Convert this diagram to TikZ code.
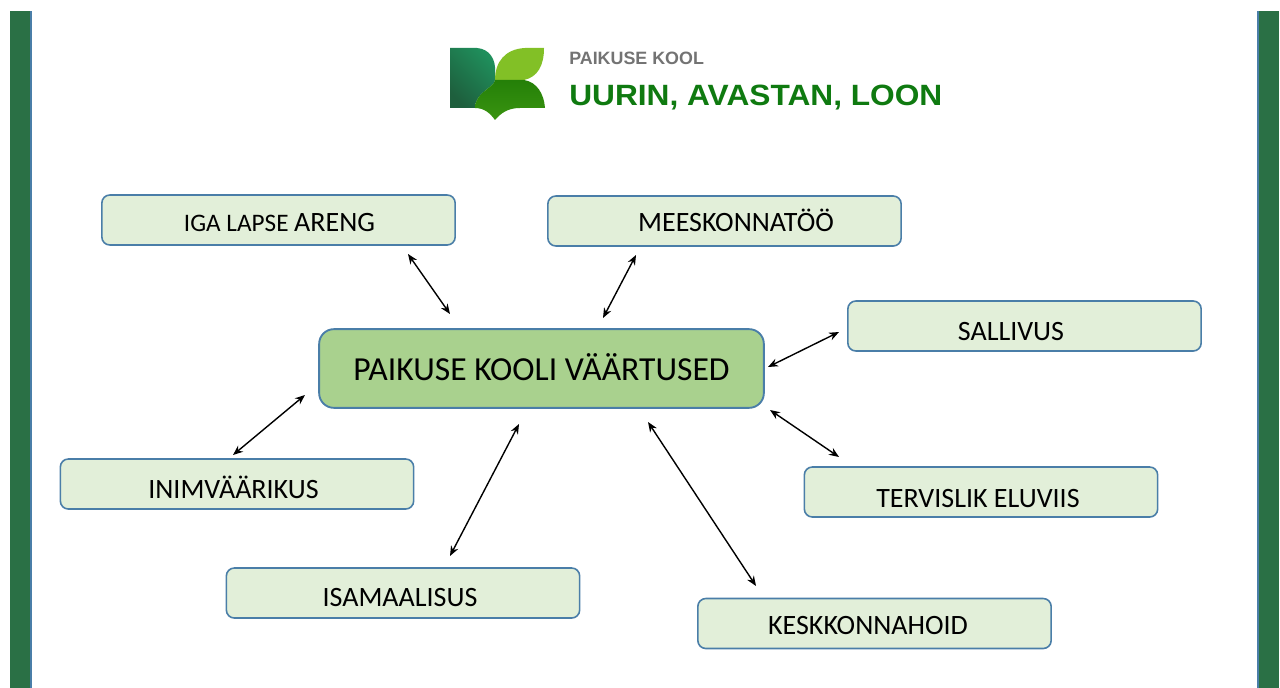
\documentclass[tikz,border=0pt]{standalone}
\usepackage{fontspec}
\setmainfont{Carlito}
\newfontfamily\logofont{Liberation Sans}
\newfontfamily\logowide[FakeStretch=1.08]{Liberation Sans}
\definecolor{bargreen}{HTML}{2A7045}
\definecolor{edgeblue}{HTML}{4A7EA8}
\definecolor{palebox}{HTML}{E2EFD9}
\definecolor{midbox}{HTML}{A9D18E}
\definecolor{logodarkA}{HTML}{1F8F5C}
\definecolor{logodarkB}{HTML}{1E5F3D}
\definecolor{logoleaf}{HTML}{82C026}
\definecolor{logomidA}{HTML}{248008}
\definecolor{logomidB}{HTML}{3A9410}
\definecolor{logotext}{HTML}{0F7A10}
\usetikzlibrary{arrows.meta}
\tikzset{
  x=0.75pt,y=-0.75pt,
  valuebox/.style={draw=edgeblue,line width=1.2pt,fill=palebox,rounded corners=6pt,minimum width=265pt,minimum height=37.5pt,inner sep=0pt,text=black},
  mainbox/.style={draw=edgeblue,line width=1.4pt,fill=midbox,rounded corners=11pt,minimum width=333.5pt,minimum height=59pt,inner sep=0pt},
  label/.style={inner sep=0pt,anchor=center,text=black},
  valuetext/.style={label,font=\fontsize{21}{24}\selectfont},
  link/.style={black,line width=1.05pt,{Stealth[length=7.5pt,width=6pt]}-{Stealth[length=7.5pt,width=6pt]}},
  sidebar/.style={fill=bargreen,draw=none},
  sideedge/.style={fill=edgeblue,draw=none}
}
\begin{document}
\begin{tikzpicture}
\useasboundingbox[fill=white] (0,0) rectangle (1280,688);
% side bars
\fill[sidebar] (10,11) rectangle (30,688);
\fill[sideedge] (30,11) rectangle (32,688);
\fill[sideedge] (1257,11) rectangle (1259,688);
\fill[sidebar] (1259,11) rectangle (1279,688);
% logo
\shade[top color=logodarkA,bottom color=logodarkB,shading angle=-45]
  (450,48) -- (477,48) .. controls (490,49) and (496,60) .. (495,72)
  -- (495,80) .. controls (494,88) and (475,92) .. (475,108) -- (450,108) -- cycle;
\fill[logoleaf] (544,48) -- (525,48) .. controls (505,49) and (495,62) .. (495,80)
  -- (524,80) .. controls (538,77) and (544,65) .. (544,48) -- cycle;
\shade[top color=logomidA,bottom color=logomidB]
  (495,80) -- (524,80) .. controls (537,82) and (544,94) .. (545,108)
  -- (520,108) .. controls (508,108) and (501,113) .. (495,120)
  .. controls (490,113) and (484,108) .. (475,108)
  .. controls (475,92) and (494,88) .. (495,80) -- cycle;
\node[label,anchor=base west,text=black!55,font=\logofont\fontsize{13.4}{16}\selectfont\bfseries] (logotop) at (569,65) {PAIKUSE KOOL};
\node[label,anchor=base west,text=logotext,font=\logowide\fontsize{22}{26}\selectfont\bfseries] (logomain) at (569,106) {UURIN, AVASTAN, LOON};
% boxes
\node[mainbox] (main) at (541.5,368.5) {};
\node[label,font=\fontsize{25.2}{28}\selectfont] (maintext) at (541.5,367) {PAIKUSE KOOLI VÄÄRTUSED};
\node[valuebox] (iga) at (278.5,220) {};
\node[label] (igatext) at (279.5,223) {\fontsize{18.9}{22}\selectfont IGA LAPSE \fontsize{21}{24}\selectfont ARENG};
\node[valuebox] (mees) at (724.5,221) {};
\node[valuetext] (meestext) at (736,220) {MEESKONNATÖÖ};
\node[valuebox] (sall) at (1024.5,326) {};
\node[valuetext] (salltext) at (1011,332) {SALLIVUS};
\node[valuebox] (terv) at (981,492) {};
\node[valuetext] (tervtext) at (978,499) {TERVISLIK ELUVIIS};
\node[valuebox] (kesk) at (874.5,623.5) {};
\node[valuetext] (kesktext) at (868,626) {KESKKONNAHOID};
\node[valuebox] (isam) at (403,593) {};
\node[valuetext] (isamtext) at (400,597.5) {ISAMAALISUS};
\node[valuebox] (inim) at (237,484) {};
\node[valuetext] (inimtext) at (233.5,487) {INIMVÄÄRIKUS};
% connector ends
\coordinate (a1) at (408,254); \coordinate (b1) at (450,314);
\coordinate (a2) at (636,255); \coordinate (b2) at (603,318);
\coordinate (a3) at (839,332); \coordinate (b3) at (768,367);
\coordinate (a4) at (839,457); \coordinate (b4) at (770,410);
\coordinate (a5) at (756,586); \coordinate (b5) at (648,422);
\coordinate (a6) at (450,556); \coordinate (b6) at (519,424);
\coordinate (a7) at (233,455); \coordinate (b7) at (305,395);
\foreach \i in {1,...,7} \draw[link] (a\i) -- (b\i);
\end{tikzpicture}
\end{document}
